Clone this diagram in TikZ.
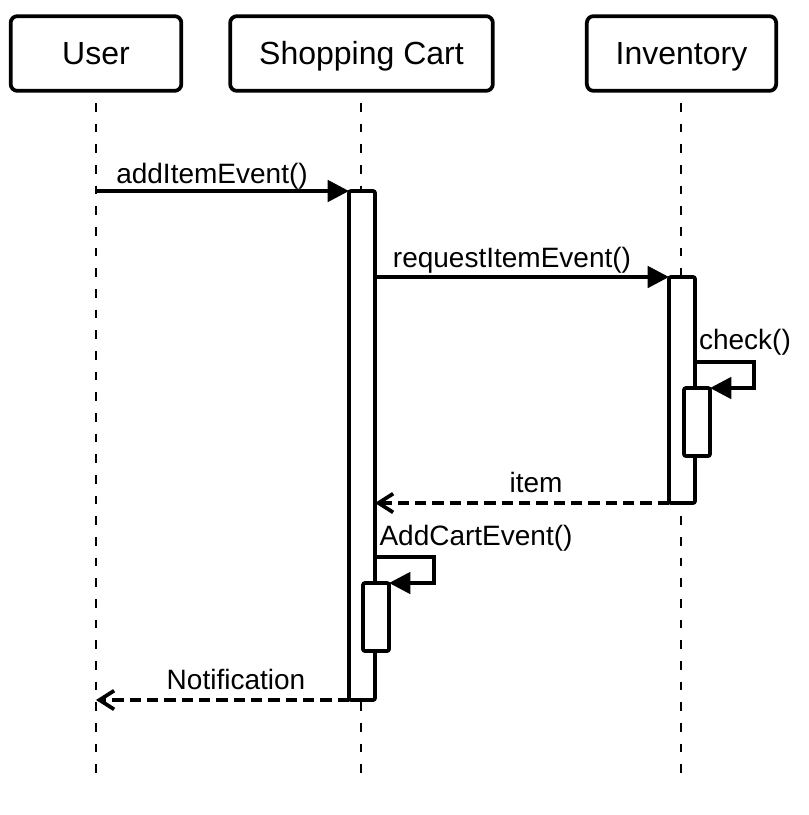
\documentclass[tikz,border=0pt]{standalone}
\usepackage{fontspec}
\setmainfont{Liberation Sans}
\usetikzlibrary{arrows.meta}
\begin{document}
\begin{tikzpicture}[x=0.75pt,y=-0.75pt,
  header/.style={draw,line width=2.8pt,rounded corners=5pt,minimum height=56pt,inner sep=0pt,text height=17pt,text depth=0pt,font=\fontsize{24}{27}\selectfont},
  lifeline/.style={line width=1.8pt,dash pattern=on 6.5pt off 9pt},
  actbar/.style={draw,fill=white,line width=2.8pt,rounded corners=1.5pt,inner sep=0pt,outer sep=0pt,anchor=north west},
  call/.style={line width=2.8pt,-{Triangle[length=16pt,width=16pt]}},
  ret/.style={line width=2.8pt,dash pattern=on 8.5pt off 4.5pt,-{Straight Barb[length=11pt,width=14pt,line width=2.8pt]}},
  lbl/.style={inner sep=0pt,anchor=base,font=\fontsize{21}{24}\selectfont}]
\useasboundingbox (0,0) rectangle (808,815);
% headers
\node[header,minimum width=128pt] (user) at (96,53.5) {User};
\node[header,minimum width=197pt] (cart) at (361.5,53.5) {Shopping Cart};
\node[header,minimum width=142pt] (inv) at (681.5,53.5) {Inventory};
% lifelines
\coordinate (uEnd) at (96,775);
\coordinate (cEnd) at (361,775);
\coordinate (iEnd) at (681,775);
\coordinate (uTop) at (96,103);
\coordinate (cTop) at (361,103);
\coordinate (iTop) at (681,103);
\draw[lifeline] (uTop) -- (uEnd);
\draw[lifeline] (cTop) -- (cEnd);
\draw[lifeline] (iTop) -- (iEnd);
% activation bars
\node[actbar,minimum width=19.5pt,minimum height=381.75pt] (cartAct) at (349,191) {};
\node[actbar,minimum width=19.5pt,minimum height=169.5pt] (invAct) at (669,277) {};
\node[actbar,minimum width=19.5pt,minimum height=51pt] (invSub) at (684,388) {};
\node[actbar,minimum width=19.5pt,minimum height=51pt] (cartSub) at (363,583) {};
% messages
\draw[call] (96,191) -- (cartAct.north west);
\node[lbl] (m1) at (212,183) {addItemEvent()};
\draw[call] (cartAct.east |- invAct.north) -- (invAct.north west);
\node[lbl] (m2) at (512,267) {requestItemEvent()};
\draw[call] (invAct.east |- 0,362) -- (754,362) -- (754,388) -- (invSub.north east);
\node[lbl] (m3) at (745,349) {check()};
\draw[ret] (invAct.south west) -- (cartAct.east |- invAct.south);
\node[lbl] (m4) at (536,492) {item};
\draw[call] (cartAct.east |- 0,557) -- (434,557) -- (434,583) -- (cartSub.north east);
\node[lbl] (m5) at (476,545) {AddCartEvent()};
\draw[ret] (cartAct.south west) -- (uEnd |- cartAct.south);
\node[lbl] (m6) at (236,689) {Notification};
\end{tikzpicture}
\end{document}
